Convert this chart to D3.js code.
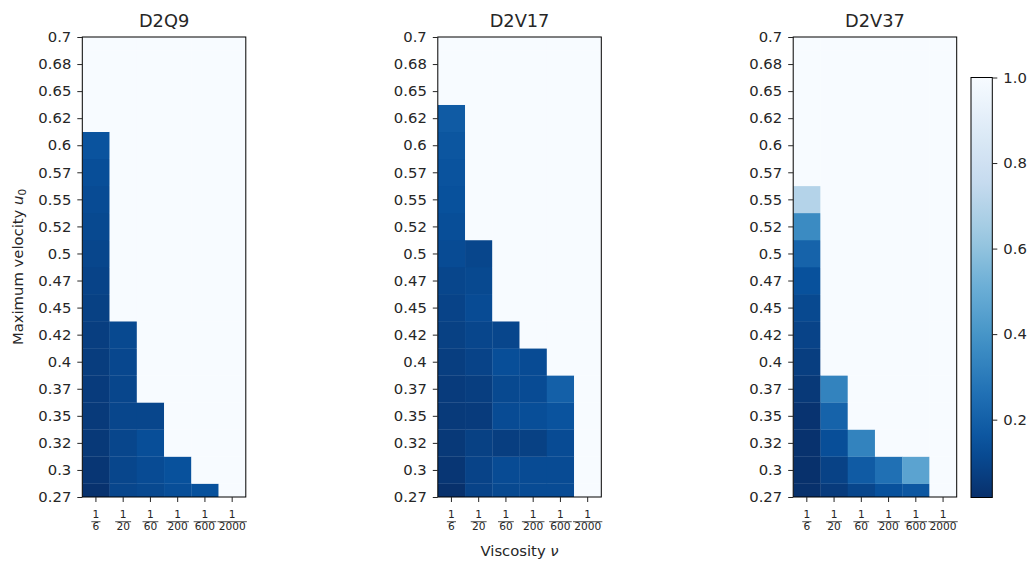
<!DOCTYPE html>
<html>
<head>
<meta charset="utf-8">
<script src="https://cdn.jsdelivr.net/npm/d3@7"></script>
<style>
  body { margin: 0; background: #fff; }
  svg { font-family: "DejaVu Sans", sans-serif; }
</style>
</head>
<body>
<div id="chart"></div>
<script>
// ---- data ----
const velocityLabels = ["0.27", "0.3", "0.32", "0.35", "0.37", "0.4", "0.42", "0.45", "0.47",
  "0.5", "0.52", "0.55", "0.57", "0.6", "0.62", "0.65", "0.68", "0.7"];
const viscosityDenoms = ["6", "20", "60", "200", "600", "2000"];
const models = ["D2Q9", "D2V17", "D2V37"];

// one list per viscosity column, values from the lowest velocity upward;
// rows that are not listed are 1.0 (unstable)
const d2q9 = [
  [0.025, 0.04, 0.05, 0.055, 0.06, 0.065, 0.07, 0.08, 0.09, 0.10, 0.11, 0.12, 0.13, 0.15],
  [0.10, 0.10, 0.10, 0.10, 0.10, 0.105, 0.11],
  [0.11, 0.12, 0.13, 0.10],
  [0.13, 0.14],
  [0.14],
  []
];
const d2v17 = [
  [0.02, 0.04, 0.05, 0.055, 0.06, 0.07, 0.08, 0.09, 0.10, 0.12, 0.13, 0.14, 0.15, 0.16, 0.18],
  [0.09, 0.09, 0.08, 0.06, 0.07, 0.09, 0.10, 0.12, 0.11, 0.10],
  [0.11, 0.12, 0.07, 0.12, 0.11, 0.13, 0.10],
  [0.12, 0.12, 0.08, 0.13, 0.12, 0.12],
  [0.12, 0.12, 0.12, 0.15, 0.20],
  []
];
const d2v37 = [
  [0.02, 0.02, 0.025, 0.03, 0.05, 0.07, 0.09, 0.11, 0.14, 0.21, 0.36, 0.70],
  [0.06, 0.085, 0.13, 0.21, 0.33],
  [0.10, 0.18, 0.33],
  [0.14, 0.26],
  [0.165, 0.46],
  []
];
const modelData = [d2q9, d2v17, d2v37];
const colorMin = 0.018;
const colorMax = 1.0;
const colorTicks = [0.2, 0.4, 0.6, 0.8, 1.0];

// ---- layout ----
const width = 1034, height = 567;
const plotTop = 37, plotBottom = 497, plotW = 163.5;
const plotLefts = [82.3, 437.8, 793.2];
const cbar = { x: 971, w: 21.3, top: 77.5, bottom: 497.5 };
const tickFont = 14.8;
const ink = "#262626";

const svg = d3.select("#chart").append("svg")
  .attr("width", width)
  .attr("height", height);

// Blues reversed, piecewise linear like matplotlib
const blues = ["#f7fbff", "#deebf7", "#c6dbef", "#9ecae1", "#6baed6", "#4292c6", "#2171b5", "#08519c", "#08306b"];
const bluesR = d3.piecewise(d3.interpolateRgb, blues.slice().reverse());
const color = d3.scaleSequential(bluesR).domain([colorMin, colorMax]);

const y = d3.scaleLinear()
  .domain([0, velocityLabels.length - 1])
  .range([plotBottom, plotTop]);

const defs = svg.append("defs");

// give the d3 axis groups our own font
function styleAxis(g) {
  g.attr("font-family", "DejaVu Sans, sans-serif").attr("font-size", tickFont);
  g.select(".domain").remove();
  g.selectAll("line").attr("stroke", ink);
  g.selectAll("text").attr("fill", ink);
}

models.forEach((name, m) => {
  const left = plotLefts[m];
  const x = d3.scaleBand()
    .domain(viscosityDenoms)
    .range([left, left + plotW]);

  // cells
  const cells = [];
  modelData[m].forEach((col, c) => {
    velocityLabels.forEach((lab, r) => {
      cells.push({ c: viscosityDenoms[c], r, v: col[r] !== undefined ? col[r] : 1.0 });
    });
  });

  defs.append("clipPath").attr("id", "clip" + m)
    .append("rect")
    .attr("x", left).attr("y", plotTop)
    .attr("width", plotW).attr("height", plotBottom - plotTop);

  const g = svg.append("g");
  g.append("g")
    .attr("clip-path", `url(#clip${m})`)
    .selectAll("rect")
    .data(cells)
    .join("rect")
    .attr("x", d => x(d.c))
    .attr("width", x.bandwidth() + 0.3)
    .attr("y", d => y(d.r + 0.5))
    .attr("height", d => y(d.r - 0.5) - y(d.r + 0.5) + 0.3)
    .attr("fill", d => color(d.v));

  // frame
  g.append("rect")
    .attr("x", left).attr("y", plotTop)
    .attr("width", plotW).attr("height", plotBottom - plotTop)
    .attr("fill", "none").attr("stroke", "#000").attr("stroke-width", 1);

  // y axis
  g.append("g")
    .attr("transform", `translate(${left},0)`)
    .call(d3.axisLeft(y)
      .tickValues(d3.range(velocityLabels.length))
      .tickFormat(i => velocityLabels[i])
      .tickSize(5).tickPadding(6))
    .call(styleAxis);

  // x axis, labels drawn as fractions below
  g.append("g")
    .attr("transform", `translate(0,${plotBottom})`)
    .call(d3.axisBottom(x).tickFormat("").tickSize(5))
    .call(styleAxis);

  const frac = g.append("g")
    .attr("font-size", 10.6)
    .attr("fill", ink)
    .selectAll("g")
    .data(viscosityDenoms)
    .join("g")
    .attr("transform", d => `translate(${x(d) + x.bandwidth() / 2},0)`);
  frac.append("text")
    .attr("y", plotBottom + 21)
    .attr("text-anchor", "middle")
    .text("1");
  frac.append("line")
    .attr("x1", d => -(d.length * 3.37 + 1.2))
    .attr("x2", d => d.length * 3.37 + 1.2)
    .attr("y1", plotBottom + 24.7).attr("y2", plotBottom + 24.7)
    .attr("stroke", ink).attr("stroke-width", 0.8);
  frac.append("text")
    .attr("y", plotBottom + 33)
    .attr("text-anchor", "middle")
    .text(d => d);

  // title
  svg.append("text")
    .attr("x", left + plotW / 2)
    .attr("y", 27)
    .attr("text-anchor", "middle")
    .attr("font-size", 17.8)
    .attr("fill", ink)
    .text(name);
});

// ---- axis titles ----
const yLab = svg.append("text")
  .attr("transform", `translate(23,${(plotTop + plotBottom) / 2}) rotate(-90)`)
  .attr("text-anchor", "middle")
  .attr("font-size", tickFont)
  .attr("fill", ink);
yLab.append("tspan").text("Maximum velocity ");
yLab.append("tspan").attr("font-style", "italic").text("u");
yLab.append("tspan").attr("dy", 3).attr("font-size", 10.4).text("0");

const xLab = svg.append("text")
  .attr("x", plotLefts[1] + plotW / 2)
  .attr("y", 556)
  .attr("text-anchor", "middle")
  .attr("font-size", tickFont)
  .attr("fill", ink);
xLab.append("tspan").text("Viscosity ");
xLab.append("tspan").attr("font-style", "italic").text("ν");

// ---- colorbar ----
const grad = defs.append("linearGradient")
  .attr("id", "cbar-grad")
  .attr("x1", "0%").attr("y1", "100%")
  .attr("x2", "0%").attr("y2", "0%");
grad.selectAll("stop")
  .data(d3.range(0, 1.0001, 0.05))
  .join("stop")
  .attr("offset", t => (t * 100) + "%")
  .attr("stop-color", t => bluesR(t));

svg.append("rect")
  .attr("x", cbar.x).attr("y", cbar.top)
  .attr("width", cbar.w).attr("height", cbar.bottom - cbar.top)
  .attr("fill", "url(#cbar-grad)")
  .attr("stroke", "#000").attr("stroke-width", 1);

const cScale = d3.scaleLinear()
  .domain([colorMin, colorMax])
  .range([cbar.bottom, cbar.top]);
svg.append("g")
  .attr("transform", `translate(${cbar.x + cbar.w},0)`)
  .call(d3.axisRight(cScale).tickValues(colorTicks).tickFormat(d3.format(".1f")).tickSize(5).tickPadding(6))
  .call(styleAxis);
</script>
</body>
</html>
